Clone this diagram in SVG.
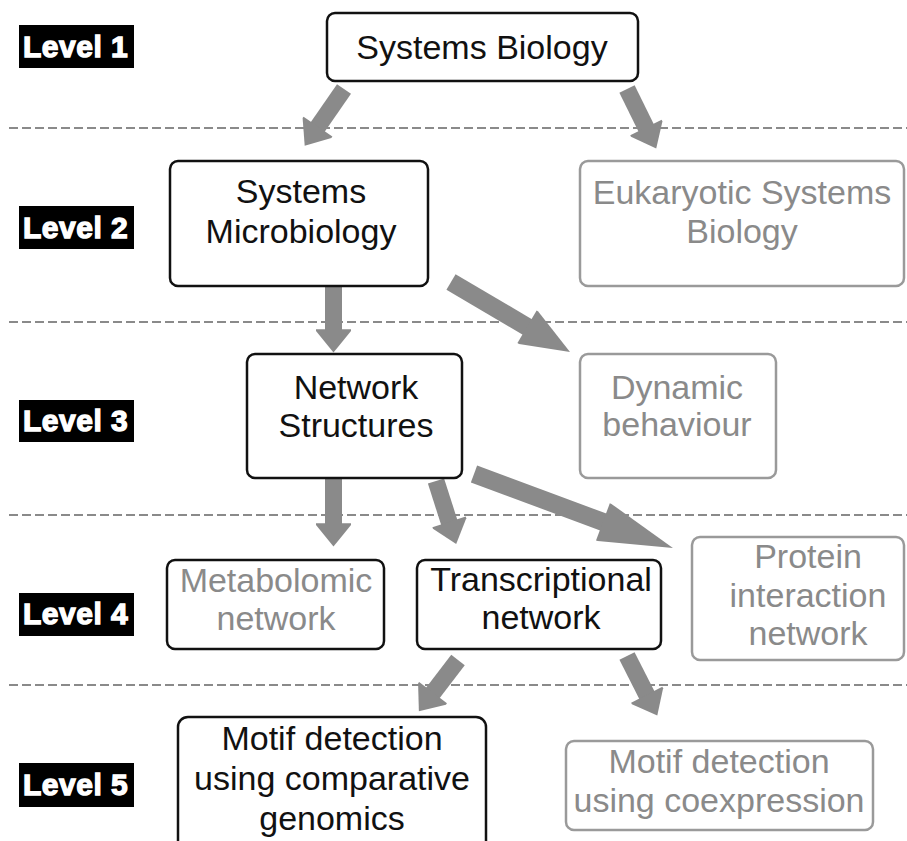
<svg xmlns="http://www.w3.org/2000/svg" width="907" height="841" viewBox="0 0 907 841">
<style>
.lvl{fill:#000}
.lt{font-family:"Liberation Sans",Arial,sans-serif;font-weight:bold;font-size:30px;fill:#fff;stroke:#fff;stroke-width:1.3;letter-spacing:0.5px}
.b{fill:#fff;stroke:#111;stroke-width:2.5}
.g{fill:#fff;stroke:#9a9a9a;stroke-width:2.5}
.t{font-family:"Liberation Sans",Arial,sans-serif;font-size:34px;fill:#111;text-anchor:middle}
.tg{font-family:"Liberation Sans",Arial,sans-serif;font-size:34px;fill:#8a8a8a;text-anchor:middle}
.dash{stroke:#8a8a8a;stroke-width:2;stroke-dasharray:9 4;fill:none}
.ar{stroke:#8a8a8a;fill:none}
</style>
<defs>
<marker id="hs" orient="auto" markerUnits="strokeWidth" refX="0" refY="0" markerWidth="2" markerHeight="3" overflow="visible"><path d="M-0.1,-1.03 L0,-1.03 L1.27,0 L0,1.03 L-0.1,1.03 z" fill="#8a8a8a"/></marker>
<marker id="hm" orient="auto" markerUnits="strokeWidth" refX="0" refY="0" markerWidth="3" markerHeight="3" overflow="visible"><path d="M-0.1,-1.05 L0,-1.05 L2.67,0 L0,1.05 L-0.1,1.05 z" fill="#8a8a8a"/></marker>
<marker id="hl" orient="auto" markerUnits="strokeWidth" refX="0" refY="0" markerWidth="5" markerHeight="3" overflow="visible"><path d="M-0.1,-1.1 L0,-1.1 L4.05,0 L0,1.1 L-0.1,1.1 z" fill="#8a8a8a"/></marker>
</defs>

<g id="separators">
<line class="dash" x1="9" y1="128" x2="907" y2="128"/>
<line class="dash" x1="9" y1="322" x2="907" y2="322"/>
<line class="dash" x1="9" y1="515" x2="907" y2="515"/>
<line class="dash" x1="9" y1="685" x2="907" y2="685"/>
</g>

<g id="levels">
<g id="level1"><rect class="lvl" x="19" y="25" width="115" height="43"/><text class="lt" x="23" y="57">Level 1</text></g>
<g id="level2"><rect class="lvl" x="19" y="206" width="115" height="43"/><text class="lt" x="23" y="238">Level 2</text></g>
<g id="level3"><rect class="lvl" x="19" y="400" width="115" height="42"/><text class="lt" x="23" y="431">Level 3</text></g>
<g id="level4"><rect class="lvl" x="19" y="593" width="115" height="43"/><text class="lt" x="23" y="624">Level 4</text></g>
<g id="level5"><rect class="lvl" x="19" y="763" width="115" height="44"/><text class="lt" x="23" y="795">Level 5</text></g>
</g>

<g id="connectors">
<line class="ar" stroke-width="17" x1="344" y1="89" x2="317" y2="128" marker-end="url(#hs)"/>
<line class="ar" stroke-width="17" x1="627" y1="89" x2="646.7" y2="129.1" marker-end="url(#hs)"/>
<line class="ar" stroke-width="17" x1="333.5" y1="286" x2="333.5" y2="331" marker-end="url(#hs)"/>
<line class="ar" stroke-width="18" x1="451" y1="282" x2="528.6" y2="327.7" marker-end="url(#hm)"/>
<line class="ar" stroke-width="17" x1="333.5" y1="478" x2="333.5" y2="525" marker-end="url(#hs)"/>
<line class="ar" stroke-width="17" x1="436" y1="481" x2="449.6" y2="523.5" marker-end="url(#hs)"/>
<line class="ar" stroke-width="18" x1="474" y1="474" x2="604.6" y2="522.5" marker-end="url(#hl)"/>
<line class="ar" stroke-width="17" x1="458" y1="660" x2="432" y2="694" marker-end="url(#hs)"/>
<line class="ar" stroke-width="17" x1="627" y1="656" x2="647.5" y2="696.3" marker-end="url(#hs)"/>
</g>

<g id="systems-biology"><rect class="b" x="327" y="13" width="311" height="68" rx="8"/><text class="t" x="482" y="59">Systems Biology</text></g>

<g id="systems-microbiology"><rect class="b" x="170" y="161" width="258" height="125" rx="8"/><text class="t" x="301" y="203">Systems</text><text class="t" x="301" y="243">Microbiology</text></g>

<g id="eukaryotic"><rect class="g" x="580" y="161" width="324" height="125" rx="8"/><text class="tg" x="742" y="204">Eukaryotic Systems</text><text class="tg" x="742" y="243">Biology</text></g>

<g id="network-structures"><rect class="b" x="247" y="354" width="215" height="124" rx="8"/><text class="t" x="356" y="399">Network</text><text class="t" x="356" y="437">Structures</text></g>

<g id="dynamic-behaviour"><rect class="g" x="580" y="354" width="196" height="124" rx="8"/><text class="tg" x="677" y="399">Dynamic</text><text class="tg" x="677" y="436">behaviour</text></g>

<g id="metabolomic"><rect class="b" x="167" y="560" width="217" height="89" rx="8"/><text class="tg" x="276" y="592">Metabolomic</text><text class="tg" x="276" y="630">network</text></g>

<g id="transcriptional"><rect class="b" x="417" y="560" width="244" height="89" rx="8"/><text class="t" x="541" y="591">Transcriptional</text><text class="t" x="541" y="629">network</text></g>

<g id="protein-interaction"><rect class="g" x="692" y="537" width="212" height="123" rx="8"/><text class="tg" x="808" y="568">Protein</text><text class="tg" x="808" y="607">interaction</text><text class="tg" x="808" y="645">network</text></g>

<g id="motif-comparative"><rect class="b" x="178" y="717" width="308" height="150" rx="10"/><text class="t" x="332" y="750">Motif detection</text><text class="t" x="332" y="790">using comparative</text><text class="t" x="332" y="830">genomics</text></g>

<g id="motif-coexpression"><rect class="g" x="566" y="741" width="307" height="89" rx="8"/><text class="tg" x="719" y="773">Motif detection</text><text class="tg" x="719" y="812">using coexpression</text></g>
</svg>
